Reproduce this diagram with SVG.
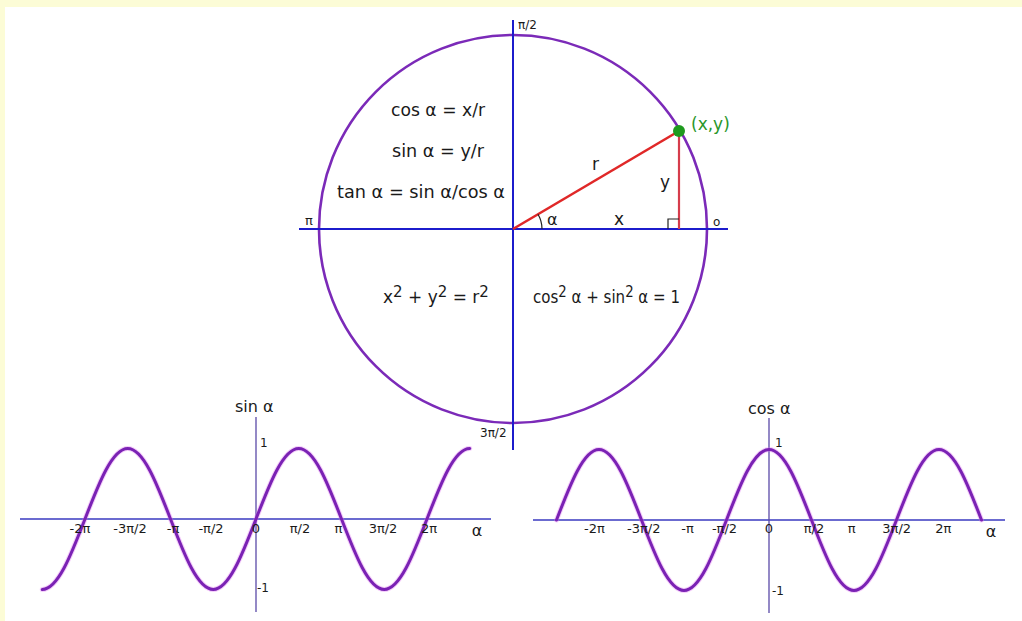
<svg xmlns="http://www.w3.org/2000/svg" width="1022" height="621" viewBox="0 0 1022 621">
<style>
.f{font-family:"DejaVu Sans","Liberation Sans",sans-serif;fill:#1a1a1a}
.big{font-size:17px}
.lab{font-size:13px;text-anchor:middle}
.sm{font-size:12px}
.axis{stroke:#1c1ccc;stroke-width:2;fill:none}
.gax{stroke:#3a3ac0;stroke-width:1.3;fill:none}
.gvx{stroke:#5a4aa8;stroke-width:1.3;fill:none}
.curve{stroke:#7a22b4;stroke-width:3;fill:none;stroke-linecap:round}
.halo{stroke:#e070f0;stroke-width:5;fill:none;opacity:0.35;stroke-linecap:round}
</style>
<rect x="0" y="0" width="1022" height="621" fill="#fcfcd6"/>
<rect x="5" y="7" width="1017" height="614" fill="#ffffff"/>

<g id="unit-circle">
<circle cx="513" cy="229" r="194" fill="none" stroke="#7b2ab8" stroke-width="2.6"/>
<line class="axis" x1="513" y1="20" x2="513" y2="450"/>
<line class="axis" x1="299" y1="229" x2="728" y2="229"/>
<text class="f sm" x="518" y="29">π/2</text>
<text class="f sm" x="480" y="437">3π/2</text>
<text class="f" font-size="13" x="305" y="225">π</text>
<text class="f sm" x="713" y="226">o</text>
</g>

<g id="triangle">
<line x1="513" y1="229" x2="679" y2="131" stroke="#e02828" stroke-width="2.6"/>
<line x1="679" y1="131" x2="679" y2="229" stroke="#d63c4c" stroke-width="2.2"/>
<path d="M668,229 V219 H679" fill="none" stroke="#222" stroke-width="1.2"/>
<path d="M542,229 A29,29 0 0 0 538,214.2" fill="none" stroke="#222" stroke-width="1.2"/>
<circle cx="679" cy="131" r="6" fill="#1e9a1e"/>
<text class="f" font-size="16" x="547" y="225">α</text>
<text class="f big" x="614" y="225">x</text>
<text class="f big" x="592" y="170">r</text>
<text class="f big" x="660" y="188">y</text>
<text class="f big" x="691" y="130" style="fill:#2a962a">(x,y)</text>
</g>

<g id="formulas">
<text class="f big" x="391" y="116" textLength="94" lengthAdjust="spacingAndGlyphs">cos α = x/r</text>
<text class="f big" x="392" y="157" textLength="92" lengthAdjust="spacingAndGlyphs">sin α = y/r</text>
<text class="f big" x="337" y="198" textLength="168" lengthAdjust="spacingAndGlyphs">tan α = sin α/cos α</text>
<text class="f big" x="383" y="303">x<tspan dy="-6" font-size="15">2</tspan><tspan dy="6"> + y</tspan><tspan dy="-6" font-size="15">2</tspan><tspan dy="6"> = r</tspan><tspan dy="-6" font-size="15">2</tspan></text>
<text class="f big" x="533" y="303" textLength="147" lengthAdjust="spacingAndGlyphs">cos<tspan dy="-6" font-size="15">2</tspan><tspan dy="6"> α + sin</tspan><tspan dy="-6" font-size="15">2</tspan><tspan dy="6"> α = 1</tspan></text>
</g>

<g id="sin-graph">
<line class="gax" x1="20" y1="519" x2="491" y2="519"/>
<line class="gvx" x1="256" y1="417" x2="256" y2="612"/>
<path class="halo" d="M42.25,589.5 c15.47,0 28.81,-34.4 42.75,-70.5 c13.940,-36.1 27.28,-70.5 42.75,-70.5 c15.47,0 28.81,34.4 42.75,70.5 c13.94,36.1 27.28,70.5 42.75,70.5 c15.47,0 28.81,-34.4 42.75,-70.5 c13.94,-36.1 27.28,-70.5 42.75,-70.5 c15.47,0 28.81,34.4 42.75,70.5 c13.94,36.1 27.28,70.5 42.75,70.5 c15.47,0 28.81,-34.4 42.75,-70.5 c13.94,-36.1 27.28,-70.5 42.75,-70.5"/>
<path class="curve" d="M42.25,589.5 c15.47,0 28.81,-34.4 42.75,-70.5 c13.94,-36.1 27.28,-70.5 42.75,-70.5 c15.47,0 28.81,34.4 42.75,70.5 c13.94,36.1 27.28,70.5 42.75,70.5 c15.47,0 28.81,-34.4 42.75,-70.5 c13.94,-36.1 27.28,-70.5 42.75,-70.5 c15.47,0 28.81,34.4 42.75,70.5 c13.94,36.1 27.28,70.5 42.75,70.5 c15.47,0 28.81,-34.4 42.75,-70.5 c13.94,-36.1 27.28,-70.5 42.75,-70.5"/>
<text class="f" font-size="16" x="235" y="412">sin α</text>
<text class="f sm" x="260" y="447">1</text>
<text class="f sm" x="257" y="592">-1</text>
<text class="f lab" x="80" y="533">-2π</text>
<text class="f lab" x="130" y="533">-3π/2</text>
<text class="f lab" x="173" y="533">-π</text>
<text class="f lab" x="211" y="533">-π/2</text>
<text class="f lab" x="256" y="533">0</text>
<text class="f lab" x="300" y="533">π/2</text>
<text class="f lab" x="338.5" y="533">π</text>
<text class="f lab" x="383" y="533">3π/2</text>
<text class="f lab" x="429" y="533">2π</text>
<text class="f" font-size="16" x="477" y="536" text-anchor="middle">α</text>
</g>

<g id="cos-graph">
<line class="gax" x1="533" y1="520" x2="1005" y2="520"/>
<line class="gvx" x1="769" y1="418" x2="769" y2="613"/>
<path class="halo" d="M556.5,520 c13.86,-36.1 27.12,-70.5 42.5,-70.5 c15.38,0 28.64,34.4 42.5,70.5 c13.86,36.1 27.12,70.5 42.5,70.5 c15.38,0 28.64,-34.4 42.5,-70.5 c13.86,-36.1 27.12,-70.5 42.5,-70.5 c15.38,0 28.64,34.4 42.5,70.5 c13.86,36.1 27.12,70.5 42.5,70.5 c15.38,0 28.64,-34.4 42.5,-70.5 c13.86,-36.1 27.12,-70.5 42.5,-70.5 c15.38,0 28.64,34.4 42.5,70.5"/>
<path class="curve" d="M556.5,520 c13.86,-36.1 27.12,-70.5 42.5,-70.5 c15.38,0 28.64,34.4 42.5,70.5 c13.86,36.1 27.12,70.5 42.5,70.5 c15.38,0 28.64,-34.4 42.5,-70.5 c13.86,-36.1 27.12,-70.5 42.5,-70.5 c15.38,0 28.64,34.4 42.5,70.5 c13.86,36.1 27.12,70.5 42.5,70.5 c15.38,0 28.64,-34.4 42.5,-70.5 c13.86,-36.1 27.12,-70.5 42.5,-70.5 c15.38,0 28.64,34.4 42.5,70.5"/>
<text class="f" font-size="16" x="748" y="414">cos α</text>
<text class="f sm" x="775" y="447">1</text>
<text class="f sm" x="772" y="595">-1</text>
<text class="f lab" x="594.5" y="533">-2π</text>
<text class="f lab" x="643.7" y="533">-3π/2</text>
<text class="f lab" x="687.5" y="533">-π</text>
<text class="f lab" x="724.5" y="533">-π/2</text>
<text class="f lab" x="769" y="533">0</text>
<text class="f lab" x="814" y="533">π/2</text>
<text class="f lab" x="851.7" y="533">π</text>
<text class="f lab" x="896.7" y="533">3π/2</text>
<text class="f lab" x="943.3" y="533">2π</text>
<text class="f" font-size="16" x="991" y="537" text-anchor="middle">α</text>
</g>
</svg>
